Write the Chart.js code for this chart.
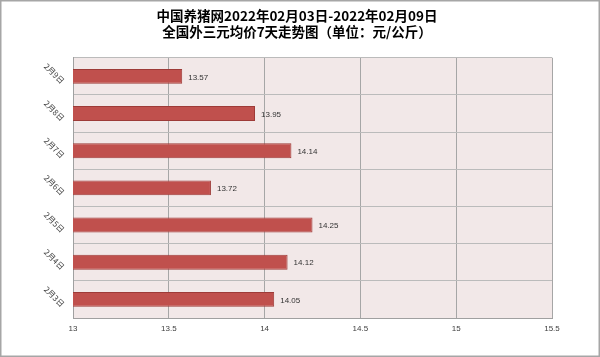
<!DOCTYPE html>
<html>
<head>
<meta charset="utf-8">
<script src="https://cdn.jsdelivr.net/npm/chart.js@4/dist/chart.umd.min.js"></script>
<style>
  html, body { margin: 0; padding: 0; background: #fff; }
  #wrap { width: 600px; height: 357px; }
</style>
</head>
<body>
<div id="wrap"><canvas id="c" width="600" height="357"></canvas></div>
<script>
// ---- data ----
const titleLines = ['中国养猪网2022年02月03日-2022年02月09日', '全国外三元均价7天走势图（单位：元/公斤）'];
const categories = ['2月3日', '2月4日', '2月5日', '2月6日', '2月7日', '2月8日', '2月9日'];
const prices = [14.05, 14.12, 14.25, 13.72, 14.14, 13.95, 13.57];
const xMin = 13;
const xMax = 15.5;
const xStep = 0.5;

const frameAndBg = {
  id: 'frameAndBg',
  beforeDraw(chart) {
    const { ctx, chartArea: a } = chart;
    ctx.save();
    ctx.fillStyle = '#ffffff';
    ctx.fillRect(0, 0, chart.width, chart.height);
    ctx.fillStyle = '#F2E8E8';
    ctx.fillRect(a.left, a.top, a.right - a.left, a.bottom - a.top);
    ctx.strokeStyle = '#A6A6A6';
    ctx.lineWidth = 1.5;
    ctx.strokeRect(0.75, 0.75, chart.width - 1.5, chart.height - 1.5);
    ctx.restore();
  }
};

const valueLabels = {
  id: 'valueLabels',
  afterDatasetsDraw(chart) {
    const { ctx } = chart;
    const meta = chart.getDatasetMeta(0);
    ctx.save();
    ctx.font = '8px "Liberation Sans", "DejaVu Sans", sans-serif';
    ctx.fillStyle = '#333333';
    ctx.textAlign = 'left';
    ctx.textBaseline = 'middle';
    meta.data.forEach((bar, i) => {
      const v = chart.data.datasets[0].data[i];
      ctx.fillText(v.toFixed(2), bar.x + 6, bar.y + 1);
    });
    ctx.restore();
  }
};

new Chart(document.getElementById('c'), {
  type: 'bar',
  data: {
    labels: categories,
    datasets: [{
      data: prices,
      backgroundColor: '#C0504D',
      borderColor: '#9E3B38',
      borderWidth: 1,
      barPercentage: 0.4,
      categoryPercentage: 1.0
    }]
  },
  options: {
    indexAxis: 'y',
    responsive: false,
    animation: false,
    layout: { padding: { left: 42, right: 48, top: 0, bottom: 0 } },
    plugins: {
      legend: { display: false },
      tooltip: { enabled: false },
      title: {
        display: true,
        text: titleLines,
        color: '#000000',
        font: { family: '"Noto Sans CJK SC", sans-serif', size: 13.5, weight: 'bold', lineHeight: 1.25 },
        padding: { top: 7, bottom: 17 }
      }
    },
    scales: {
      x: {
        min: xMin,
        max: xMax,
        border: { display: true, color: '#A0A0A0', width: 1 },
        grid: { color: '#A6A6A6', drawTicks: false },
        ticks: {
          stepSize: xStep,
          padding: 6,
          color: '#404040',
          font: { family: '"Liberation Sans", sans-serif', size: 8 },
          callback: (v) => String(Math.round(v * 10) / 10)
        },
        afterFit(scale) { scale.height = 39; }
      },
      y: {
        reverse: true,
        border: { display: true, color: '#A0A0A0', width: 1 },
        grid: { color: '#BBBBBB', drawTicks: false, offset: true },
        ticks: {
          minRotation: -45,
          maxRotation: -45,
          padding: 10,
          labelOffset: 6,
          color: '#404040',
          font: { family: '"Noto Sans CJK SC", sans-serif', size: 8 }
        },
        afterFit(scale) { scale.width = 31; }
      }
    }
  },
  plugins: [frameAndBg, valueLabels]
});
</script>
</body>
</html>
